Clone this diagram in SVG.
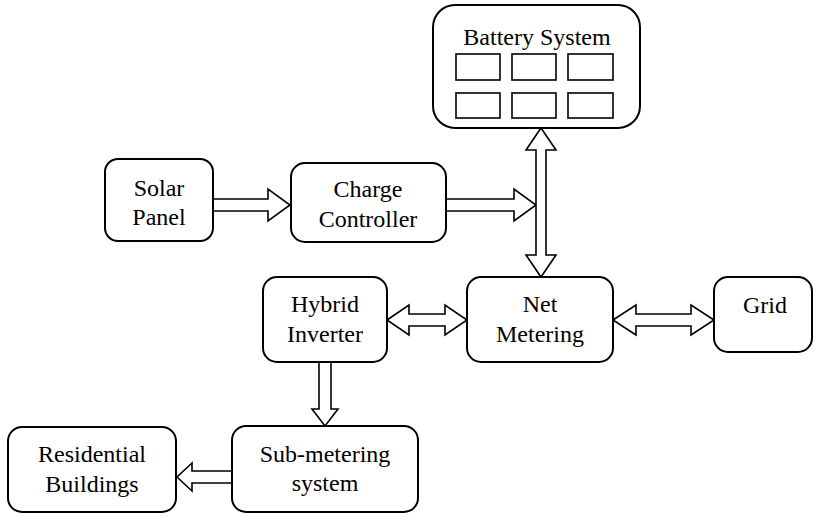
<svg xmlns="http://www.w3.org/2000/svg" width="814" height="513" viewBox="0 0 814 513">
<style>
.box{fill:#fff;stroke:#000;stroke-width:2}
.cell{fill:#fff;stroke:#000;stroke-width:1.6}
.arr{fill:#fff;stroke:#000;stroke-width:1.6;stroke-linejoin:miter}
text{font-family:"Liberation Serif","Times New Roman",serif;font-size:24px;fill:#000;text-anchor:middle}
</style>
<rect width="814" height="513" fill="#fff"/>
<g id="connectors">
<polygon class="arr" points="213,199 268,199 268,189 290,205 268,221 268,211 213,211"/>
<polygon class="arr" points="446,199 514,199 514,189 536,205 514,221 514,211 446,211"/>
<polygon class="arr" points="541,128 556,150 546,150 546,255 556,255 541,277 526,255 536,255 536,150 526,150"/>
<polygon class="arr" points="387,320 409,305 409,314 445,314 445,305 467,320 445,335 445,326 409,326 409,335"/>
<polygon class="arr" points="613,320 636,305 636,314 691,314 691,305 714,320 691,335 691,326 636,326 636,335"/>
<polygon class="arr" points="319,362 331,362 331,409 338,409 325,426 312,409 319,409"/>
<polygon class="arr" points="232,471 192,471 192,463 177,477 192,491 192,483 232,483"/>
</g>
<g id="battery">
<rect class="box" x="433" y="5" width="207" height="123" rx="22"/>
<text x="537" y="45">Battery System</text>
<rect class="cell" x="456" y="54" width="44" height="26"/>
<rect class="cell" x="512" y="54" width="44" height="26"/>
<rect class="cell" x="568" y="54" width="45" height="26"/>
<rect class="cell" x="456" y="93" width="44" height="25"/>
<rect class="cell" x="512" y="93" width="44" height="25"/>
<rect class="cell" x="568" y="93" width="45" height="25"/>
</g>
<g id="solar">
<rect class="box" x="105" y="159" width="108" height="82" rx="13"/>
<text x="159" y="196">Solar</text>
<text x="159" y="225">Panel</text>
</g>
<g id="charge">
<rect class="box" x="291" y="163" width="155" height="79" rx="14"/>
<text x="368" y="197">Charge</text>
<text x="368" y="227">Controller</text>
</g>
<g id="hybrid">
<rect class="box" x="263" y="277" width="124" height="85" rx="14"/>
<text x="325" y="312">Hybrid</text>
<text x="325" y="342">Inverter</text>
</g>
<g id="net">
<rect class="box" x="467" y="277" width="146" height="85" rx="14"/>
<text x="540" y="312">Net</text>
<text x="540" y="342">Metering</text>
</g>
<g id="grid">
<rect class="box" x="714" y="277" width="98" height="75" rx="14"/>
<text x="765" y="313">Grid</text>
</g>
<g id="submetering">
<rect class="box" x="232" y="426" width="186" height="86" rx="14"/>
<text x="325" y="462">Sub-metering</text>
<text x="325" y="491">system</text>
</g>
<g id="residential">
<rect class="box" x="8" y="427" width="168" height="85" rx="14"/>
<text x="92" y="462">Residential</text>
<text x="92" y="492">Buildings</text>
</g>
</svg>
